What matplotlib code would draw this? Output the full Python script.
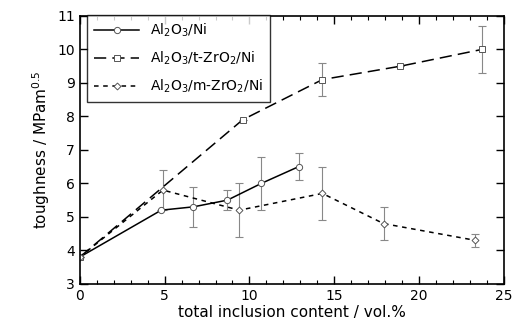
import matplotlib
matplotlib.use("Agg")
import matplotlib.pyplot as plt
from matplotlib.ticker import MultipleLocator

ni_x = [0, 4.8, 6.7, 8.7, 10.7, 12.9]
ni_y = [3.8, 5.2, 5.3, 5.5, 6.0, 6.5]
ni_lo = [0, 0, 0.6, 0.3, 0.8, 0.4]
ni_hi = [0, 0, 0.6, 0.3, 0.8, 0.4]

t_x = [0, 9.6, 14.3, 18.9, 23.7]
t_y = [3.8, 7.9, 9.1, 9.5, 10.0]
t_lo = [0, 0, 0.5, 0, 0.7]
t_hi = [0, 0, 0.5, 0, 0.7]

m_x = [0, 4.9, 9.4, 14.3, 17.9, 23.3]
m_y = [3.8, 5.8, 5.2, 5.7, 4.8, 4.3]
m_lo = [0, 0.6, 0.8, 0.8, 0.5, 0.2]
m_hi = [0, 0.6, 0.8, 0.8, 0.5, 0.2]

plt.rcParams['font.family'] = ['DejaVu Sans']
plt.rcParams['font.size'] = 10

fig = plt.figure(figsize=(5.18, 3.32), dpi=100)
ax = fig.add_axes([0.154, 0.145, 0.819, 0.807])

ecol = '#888888'
mk = dict(markerfacecolor='white', markeredgecolor='#555555', markeredgewidth=0.7)

def series(x, y, lo, hi, ls, marker, ms, label):
    ax.errorbar(x, y, yerr=[lo, hi], fmt='none', ecolor=ecol, elinewidth=0.8, capsize=3, capthick=0.8, zorder=1)
    ax.plot(x, y, color='black', linestyle=ls, linewidth=1.1, marker=marker, markersize=ms,
            label=label, zorder=2, **mk)

series(ni_x, ni_y, ni_lo, ni_hi, '-', 'o', 4.5, r'Al$_2$O$_3$/Ni')
series(t_x, t_y, t_lo, t_hi, (0, (8, 4)), 's', 4.5, r'Al$_2$O$_3$/t-ZrO$_2$/Ni')
series(m_x, m_y, m_lo, m_hi, (0, (3, 3)), 'D', 3.5, r'Al$_2$O$_3$/m-ZrO$_2$/Ni')

ax.set_xlim(0, 25)
ax.set_ylim(3, 11)
ax.xaxis.set_major_locator(MultipleLocator(5))
ax.xaxis.set_minor_locator(MultipleLocator(1))
ax.yaxis.set_major_locator(MultipleLocator(1))
ax.tick_params(which='both', direction='in', top=True, right=True)
ax.tick_params(which='major', length=6, width=1)
ax.tick_params(which='minor', length=3, width=0.8)
for s in ax.spines.values():
    s.set_linewidth(1.2)

ax.set_xlabel('total inclusion content / vol.%', fontsize=11, labelpad=2)
ax.set_ylabel(r'toughness / MPam$^{0.5}$', fontsize=11)

leg = ax.legend(loc='upper left', bbox_to_anchor=(0.018, 1.003), frameon=True, fancybox=False,
                edgecolor='black', borderaxespad=0.0, handlelength=3.2, fontsize=10,
                labelspacing=0.75, borderpad=0.5)
leg.get_frame().set_linewidth(1.0)

fig.savefig('out.png', dpi=100)
